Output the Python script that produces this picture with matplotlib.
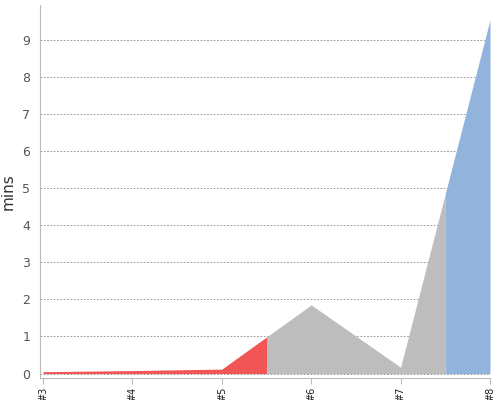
import numpy as np
import matplotlib
matplotlib.use("Agg")
import matplotlib.pyplot as plt

categories = ["#3", "#4", "#5", "#6", "#7", "#8"]
values = [0.05, 0.08, 0.12, 1.85, 0.17, 9.53]
# colour bands: (start, end) in category index units, colour
bands = [(0.0, 2.5, "#f25555"), (2.5, 4.5, "#bdbdbd"), (4.5, 5.0, "#92b4dc")]

x = np.arange(len(categories))
fig = plt.figure(figsize=(5, 4), dpi=100)
ax = fig.add_axes([0.08, 0.055, 0.90, 0.9325])

for s, e, c in bands:
    xs = np.concatenate([[s], x[(x > s) & (x < e)], [e]])
    ys = np.interp(xs, x, values)
    ax.fill_between(xs, 0, ys, color=c, linewidth=0, zorder=2)

ax.set_xlim(-0.034, 5.0)
ax.set_ylim(-0.12, 9.93)
ax.set_yticks(range(0, 10))
ax.yaxis.grid(True, linestyle=(0, (2, 2)), color="#888888", linewidth=0.6)
ax.set_axisbelow(True)
ax.set_xticks(x)
ax.set_xticklabels(categories, rotation=90, fontsize=7, color="#222222")
ax.tick_params(axis="y", labelsize=9, colors="#555555", length=0, pad=7)
ax.tick_params(axis="x", length=4, color="#bbbbbb", pad=2)
for sp in ["top", "right"]:
    ax.spines[sp].set_visible(False)
for sp in ["left", "bottom"]:
    ax.spines[sp].set_color("#bbbbbb")
ax.set_ylabel("mins", fontsize=11, color="#333333", labelpad=5)
fig.savefig("out.png", dpi=100)
